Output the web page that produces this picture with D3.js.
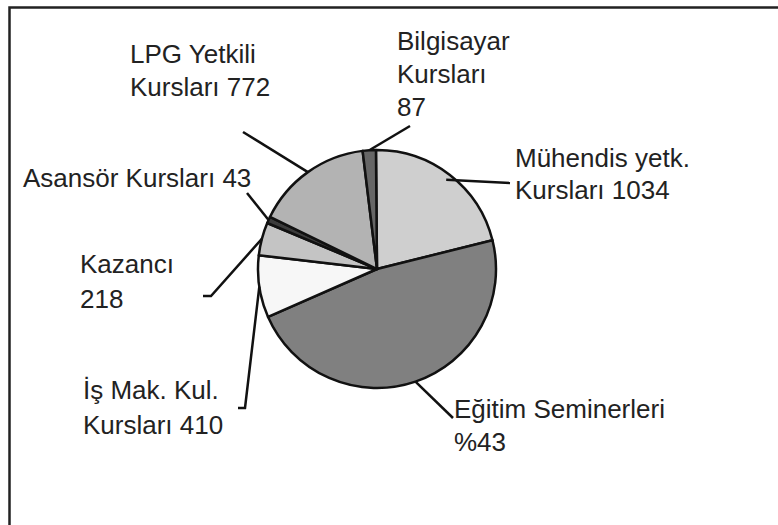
<!DOCTYPE html>
<html>
<head>
<meta charset="utf-8">
<script src="https://cdn.jsdelivr.net/npm/d3@7"></script>
<style>
  body { margin: 0; background: #fff; }
  svg text { font-family: "Liberation Sans", Arial, sans-serif; font-size: 26px; fill: #222; }
</style>
</head>
<body>
<div id="chart"></div>
<script>
// slices, clockwise from 12 o'clock
const categories = ["Mühendis yetk. Kursları", "Eğitim Seminerleri", "İş Mak. Kul. Kursları",
  "Kazancı", "Asansör Kursları", "LPG Yetkili Kursları", "Bilgisayar Kursları"];
const values = [1034, 2300, 410, 218, 43, 772, 87];
// label lines as printed in the chart
const labelLines = [
  ["Mühendis yetk.", "Kursları 1034"],
  ["Eğitim Seminerleri", "%43"],
  ["İş Mak. Kul.", "Kursları 410"],
  ["Kazancı", "218"],
  ["Asansör Kursları 43"],
  ["LPG Yetkili", "Kursları 772"],
  ["Bilgisayar", "Kursları", "87"]
];
const fills = ["#cfcfcf", "#808080", "#f7f7f7", "#c4c4c4", "#3c3c3c", "#b3b3b3", "#666666"];

// layout: label anchor (text x, first baseline, line step) and leader end point(s)
const labelLayout = [
  { x: 515, y: 167, dy: 32, leader: [[510, 183]] },
  { x: 454, y: 418, dy: 33, leader: [[453, 418]] },
  { x: 83, y: 399, dy: 35, leader: [[245, 408], [238, 408]] },
  { x: 80, y: 273, dy: 35, leader: [[211, 296], [203, 296]] },
  { x: 23, y: 187, dy: 0, leader: [[247, 193]] },
  { x: 130, y: 63, dy: 33, leader: [[243, 132]] },
  { x: 397, y: 50, dy: 33, leader: [[410, 126]] }
];

const width = 778, height = 525;
const cx = 377, cy = 269, radius = 119;

const svg = d3.select("#chart").append("svg")
  .attr("width", width)
  .attr("height", height);

// frame (top and left edges only)
svg.append("path")
  .attr("d", `M9.5,525 L9.5,7.5 L778,7.5`)
  .attr("fill", "none")
  .attr("stroke", "#222")
  .attr("stroke-width", 2.5);

const data = categories.map((c, i) => ({ name: c, value: values[i], i: i }));

const pie = d3.pie()
  .sort(null)
  .value(d => d.value)
  .startAngle(-0.5 * Math.PI / 180)
  .endAngle(2 * Math.PI - 0.5 * Math.PI / 180);

const arcs = pie(data);

const arc = d3.arc().innerRadius(0).outerRadius(radius);

const chart = svg.append("g").attr("transform", `translate(${cx},${cy})`);

chart.selectAll(".slice")
  .data(arcs)
  .join("path")
  .attr("class", "slice")
  .attr("d", arc)
  .attr("fill", d => fills[d.data.i])
  .attr("stroke", "#111")
  .attr("stroke-width", 2.5)
  .attr("stroke-linejoin", "round");

// leader lines from the slice mid angle on the rim to the label
const line = d3.line();
svg.selectAll(".leader")
  .data(arcs)
  .join("path")
  .attr("class", "leader")
  .attr("d", d => {
    const a = (d.startAngle + d.endAngle) / 2;
    const r0 = d.data.i === 0 ? radius - 6 : radius;
    const start = [cx + r0 * Math.sin(a), cy - r0 * Math.cos(a)];
    return line([start, ...labelLayout[d.data.i].leader]);
  })
  .attr("fill", "none")
  .attr("stroke", "#111")
  .attr("stroke-width", 2.5);

// labels
const labels = svg.selectAll(".label")
  .data(data)
  .join("text")
  .attr("class", "label")
  .attr("x", d => labelLayout[d.i].x)
  .attr("y", d => labelLayout[d.i].y);

labels.selectAll("tspan")
  .data(d => labelLines[d.i].map((t, k) => ({ t, k, i: d.i })))
  .join("tspan")
  .attr("x", d => labelLayout[d.i].x)
  .attr("y", d => labelLayout[d.i].y + d.k * labelLayout[d.i].dy)
  .text(d => d.t);
</script>
</body>
</html>
